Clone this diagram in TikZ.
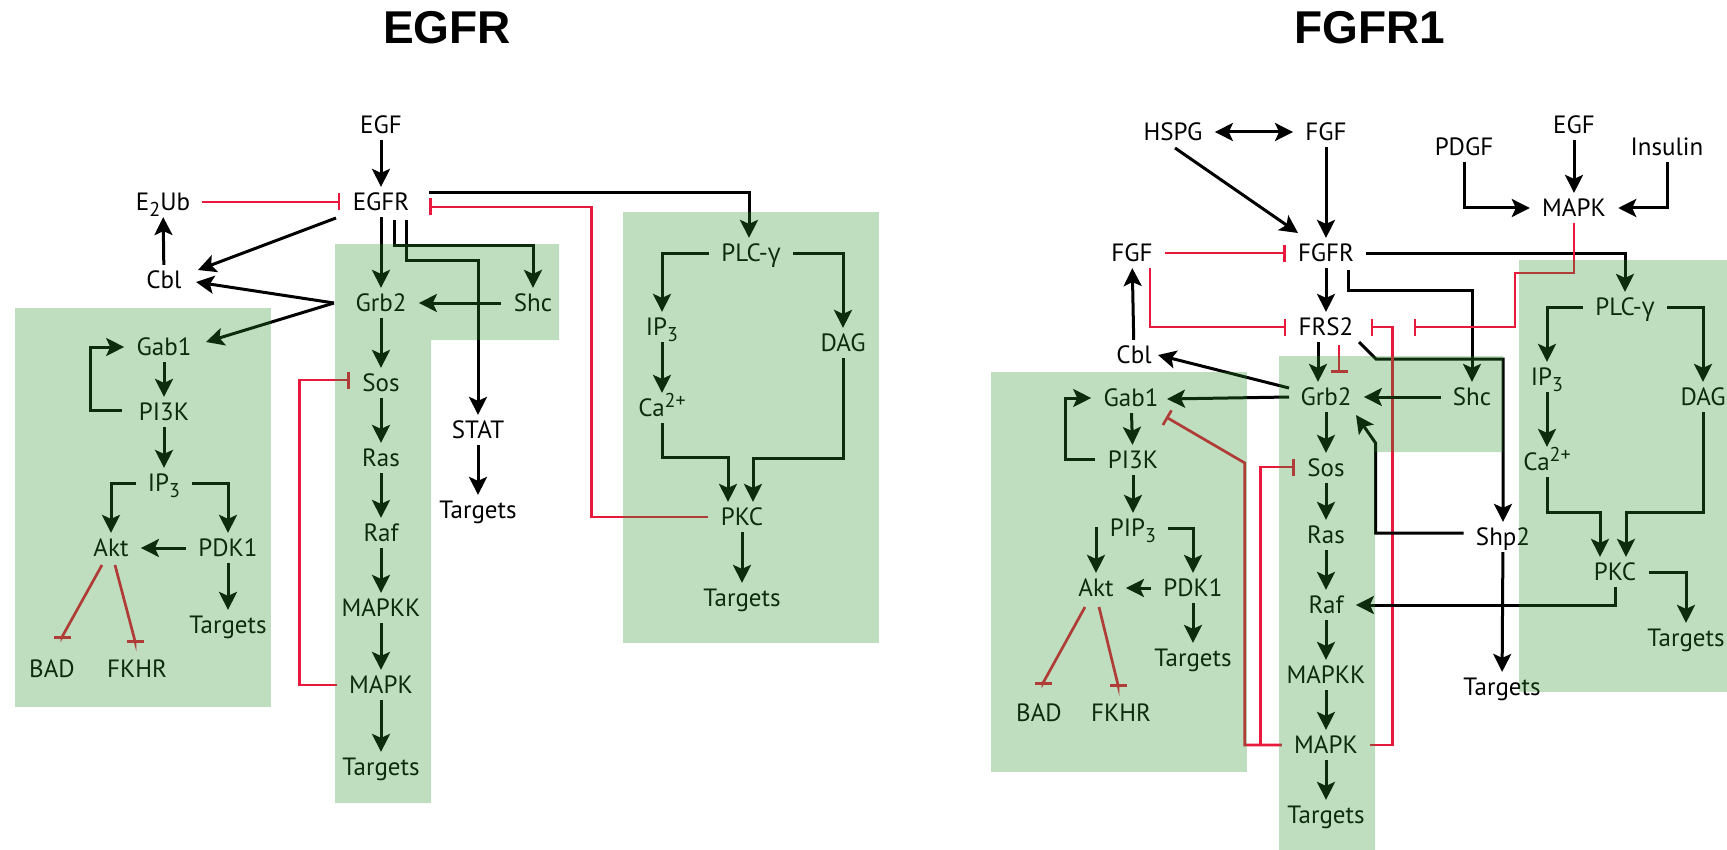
\documentclass[tikz,border=0pt]{standalone}
\usepackage{fontspec}
\setmainfont{PT Sans}
\newfontfamily\grkfont{Open Sans}
\newfontfamily\headfont{Liberation Sans}
\usetikzlibrary{arrows.meta,calc}
\definecolor{inhib}{HTML}{E8193C}
\definecolor{zonegreen}{HTML}{2C902C}
\newcommand\lowidx[1]{\raisebox{-0.5ex}{\fontsize{10}{11}\selectfont #1}}
\newcommand\highidx[1]{\raisebox{0.75ex}{\fontsize{10}{11}\selectfont #1}}

\begin{document}
\begin{tikzpicture}[
  x=0.5pt, y=-0.5pt,
  font=\fontsize{12.5}{14}\selectfont,
  every node/.style={inner xsep=6pt,inner ysep=3pt,text height=8.7pt,text depth=0pt},
  ttl/.style={font=\headfont\bfseries\fontsize{23}{27}\selectfont,text height=16.5pt},
  act/.style={-{Stealth[length=9pt,width=9pt,inset=2pt]},line width=1.5pt},
  act2/.style={{Stealth[length=9pt,width=9pt,inset=2pt]}-{Stealth[length=9pt,width=9pt,inset=2pt]},line width=1.5pt},
  inh/.style={-{Bar[width=8.5pt]},draw=inhib,line width=1.35pt},
  zone/.style={fill=zonegreen,fill opacity=0.3,draw=none}
]
\useasboundingbox (0,0) rectangle (1727,850);

% EGFR
\node[ttl] (ttlA) at (447,27) {EGFR};
\node (egf)   at (381,125) {EGF};
\node (egfr)  at (381,202) {EGFR};
\node (eub)   at (163,202) {E\lowidx{2}Ub};
\node (cblA)  at (164,280) {Cbl};
\node (grbA)  at (381,303) {Grb2};
\node (shcA)  at (533,303) {Shc};
\node (gabA)  at (164,347) {Gab1};
\node (pikA)  at (164,412) {PI3K};
\node (ipA)   at (164,483) {IP\lowidx{3}};
\node (aktA)  at (111,548) {Akt};
\node (pdkA)  at (228,548) {PDK1};
\node (tgA1)  at (228,625) {Targets};
\node (badA)  at (52,669)  {BAD};
\node (fkhA)  at (137,669) {FKHR};
\node (sosA)  at (381,383) {Sos};
\node (rasA)  at (381,458) {Ras};
\node (rafA)  at (381,533) {Raf};
\node (mkkA)  at (381,608) {MAPKK};
\node (mapA)  at (381,685) {MAPK};
\node (tgA2)  at (381,767) {Targets};
\node (statA) at (478,430) {STAT};
\node (tgA3)  at (478,510) {Targets};
\node (plcA)  at (751,253) {PLC-{\grkfont γ}};
\node (iplA)  at (662,327) {IP\lowidx{3}};
\node (dagA)  at (843,343) {DAG};
\node (caA)   at (662,408) {Ca\highidx{2+}};
\node (pkcA)  at (742,517) {PKC};
\node (tgA4)  at (742,598) {Targets};

\draw[act] (egf) -- (egfr);
\draw[inh] (eub) -- (egfr);
\draw[act] (cblA) -- (eub);
\draw[act] ($(egfr)+(-45,16)$) -- ($(cblA)+(34,-10)$);
\draw[act] ($(grbA)+(-47,0)$) -- ($(cblA)+(32,2)$);
\draw[act] ($(grbA)+(-47,0)$) -- ($(gabA)+(42,-5)$);
\draw[act] (egfr) -- (grbA);
\draw[act] (shcA) -- (grbA);
\draw[act] ($(egfr)+(13,18)$) -- ++(0,25) -| (shcA);
\draw[act] ($(egfr)+(25,18)$) -- ++(0,40) -| (statA);
\draw[act] (statA) -- (tgA3);
\draw[act] (gabA) -- (pikA);
\draw[act] ($(pikA)+(-42,-2)$) -- ++(-32,0) |- (gabA);
\draw[act] (pikA) -- (ipA);
\draw[act] (ipA) -| (aktA);
\draw[act] (ipA) -| (pdkA);
\draw[act] (pdkA) -- (aktA);
\draw[act] (pdkA) -- (tgA1);
\draw[inh] ($(aktA)+(-9,17)$) -- ($(badA)+(10,-32)$) -- ++(0,2);
\draw[inh] ($(aktA)+(4,17)$) -- ($(fkhA)+(-2,-28)$) -- ++(0,2);
\draw[act] (grbA) -- (sosA);
\draw[act] (sosA) -- (rasA);
\draw[act] (rasA) -- (rafA);
\draw[act] (rafA) -- (mkkA);
\draw[act] (mkkA) -- (mapA);
\draw[act] (mapA) -- (tgA2);
\draw[inh] (mapA.west) -- ++(-37,0) |- ($(sosA.west)+(0,-3)$);
\draw[act] ($(egfr)+(48,-9)$) -| ($(plcA.north)+(-2,0)$);
\draw[inh] (pkcA.west) -- ++(-117,0) |- ($(egfr)+(48,5)$);
\draw[act] (plcA) -| (iplA);
\draw[act] (plcA) -| (dagA);
\draw[act] (iplA) -- (caA);
\draw[act] (caA) -- ++(0,49) -| ($(pkcA.north)+(-14,0)$);
\draw[act] (dagA) -- ++(0,115) -| ($(pkcA.north)+(11,0)$);
\draw[act] (pkcA) -- (tgA4);

% FGFR1
\node[ttl] (ttlB) at (1370,27) {FGFR1};
\node (hspg)  at (1173,132) {HSPG};
\node (fgfT)  at (1326,132) {FGF};
\node (fgfr)  at (1326,253) {FGFR};
\node (fgfL)  at (1132,253) {FGF};
\node (cblB)  at (1134,355) {Cbl};
\node (frs)   at (1326,327) {FRS2};
\node (grbB)  at (1326,397) {Grb2};
\node (shcB)  at (1472,397) {Shc};
\node (gabB)  at (1131,398) {Gab1};
\node (pikB)  at (1133,460) {PI3K};
\node (pipB)  at (1133,528) {PIP\lowidx{3}};
\node (aktB)  at (1096,588) {Akt};
\node (pdkB)  at (1193,588) {PDK1};
\node (tgB1)  at (1193,658) {Targets};
\node (badB)  at (1039,713) {BAD};
\node (fkhB)  at (1121,713) {FKHR};
\node (sosB)  at (1326,468) {Sos};
\node (rasB)  at (1326,535) {Ras};
\node (rafB)  at (1326,605) {Raf};
\node (mkkB)  at (1326,675) {MAPKK};
\node (mapB)  at (1326,745) {MAPK};
\node (tgB2)  at (1326,815) {Targets};
\node (shp)   at (1503,537) {Shp2};
\node (tgB3)  at (1502,687) {Targets};
\node (pdgf)  at (1464,147) {PDGF};
\node (egfB)  at (1574,125) {EGF};
\node (ins)   at (1667,147) {Insulin};
\node (mapT)  at (1574,208) {MAPK};
\node (plcB)  at (1625,307) {PLC-{\grkfont γ}};
\node (iplB)  at (1547,377) {IP\lowidx{3}};
\node (caB)   at (1547,462) {Ca\highidx{2+}};
\node (dagB)  at (1703,397) {DAG};
\node (pkcB)  at (1615,572) {PKC};
\node (tgB4)  at (1686,638) {Targets};

\draw[act2] (hspg) -- (fgfT);
\draw[act] (fgfT) -- (fgfr);
\draw[act] ($(hspg)+(2,16)$) -- ($(fgfr)+(-28,-20)$);
\draw[inh] (fgfL) -- (fgfr);
\draw[act] (cblB) -- (fgfL);
\draw[inh] ($(fgfL)+(18,15)$) |- (frs.west);
\draw[act] (fgfr) -- (frs);
\draw[act] ($(fgfr)+(22,17)$) -- ++(0,20) -| (shcB);
\draw[act] (fgfr) -| (plcB);
\draw[act] ($(frs.south)+(-8,0)$) -- ($(grbB.north)+(-8,0)$);
\draw[inh] ($(frs.south)+(13,3)$) -- ($(grbB.north)+(13,-9)$);
\draw[act] ($(frs)+(33,15)$) -- ++(17,17) -| (shp);
\draw[inh] (mapB.east) -- ++(22,0) |- ($(frs.east)+(5,0)$);
\draw[inh] (mapT.south) -- ++(0,50) -- ++(-59,0) |- ($(frs.east)+(48,0)$);
\draw[act] ($(grbB)+(-37,-9)$) -- ($(cblB)+(24,0)$);
\draw[act] ($(grbB)+(-37,0)$) -- ($(gabB)+(36,1)$);
\draw[act] (shcB) -- (grbB);
\draw[act] ($(shp.west)+(0,-4)$) -- ++(-88,0) -- ++(0,-90) -- ($(grbB)+(30,18)$);
\draw[act] (shp) -- (tgB3);
\draw[act] (gabB) -- (pikB);
\draw[act] ($(pikB)+(-38,-1)$) -- ++(-30,0) |- (gabB);
\draw[act] (pikB) -- (pipB);
\draw[act] (pipB) -| (aktB);
\draw[act] (pipB) -| (pdkB);
\draw[act] (pdkB) -- (aktB);
\draw[act] (pdkB) -- (tgB1);
\draw[inh] ($(aktB)+(-11,19)$) -- ($(badB)+(4,-30)$) -- ++(0,2);
\draw[inh] ($(aktB)+(3,19)$) -- ($(fkhB)+(-3,-28)$) -- ++(0,2);
\draw[act] (grbB) -- (sosB);
\draw[act] (sosB) -- (rasB);
\draw[act] (rasB) -- (rafB);
\draw[act] (rafB) -- (mkkB);
\draw[act] (mkkB) -- (mapB);
\draw[act] (mapB) -- (tgB2);
\draw[inh] (mapB.west) -- ++(-21,0) |- ($(sosB.west)+(0,-1)$);
\draw[inh] (mapB.west) -- ++(-37,0) -- ++(0,-282) -- ($(gabB)+(35,19)$);
\draw[act] (pkcB) |- (rafB);
\draw[act] (pdgf) |- (mapT);
\draw[act] (egfB) -- (mapT);
\draw[act] (ins) |- (mapT);
\draw[act] (plcB) -| (iplB);
\draw[act] (plcB) -| (dagB);
\draw[act] (iplB) -- (caB);
\draw[act] (caB) -- ++(0,50) -| ($(pkcB.north)+(-15,0)$);
\draw[act] (dagB) -- ++(0,115) -| ($(pkcB.north)+(11,0)$);
\draw[act] (pkcB) -| (tgB4);

% shaded groups
\fill[zone] (15,308) rectangle (271,707);
\fill[zone] (335,244) -- (559,244) -- (559,340) -- (431,340) -- (431,803) -- (335,803) -- cycle;
\fill[zone] (623,212) rectangle (879,643);
\fill[zone] (991,372) rectangle (1247,772);
\fill[zone] (1279,356) -- (1503,356) -- (1503,452) -- (1375,452) -- (1375,850) -- (1279,850) -- cycle;
\fill[zone] (1519,260) rectangle (1727,692);
\end{tikzpicture}
\end{document}
